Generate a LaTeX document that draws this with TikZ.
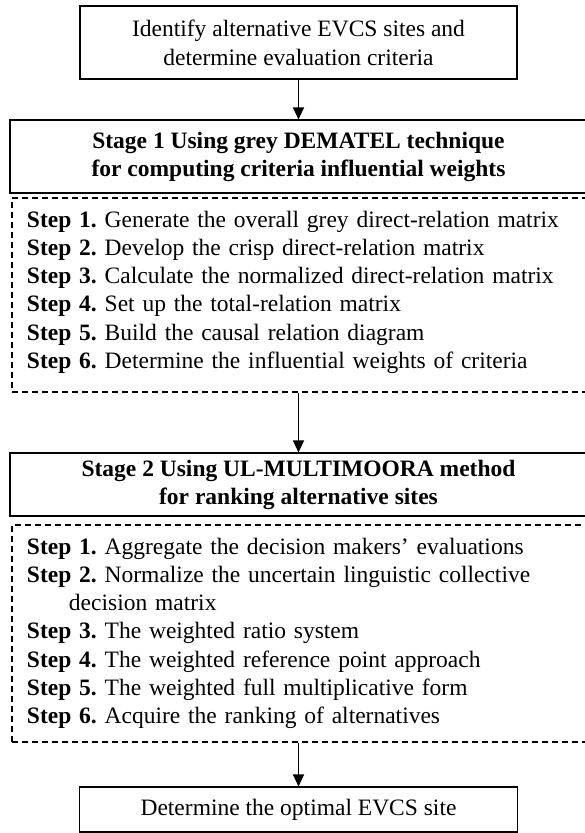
\documentclass[tikz,border=0pt]{standalone}
\usepackage{fontspec}
\setmainfont{Liberation Serif}
\usetikzlibrary{arrows.meta}
\frenchspacing
\hyphenpenalty=10000

\tikzstyle{sqr} = [rectangle, draw=black, line width=1.1pt, align=center, inner sep=0pt, font=\fontsize{23.5}{29}\selectfont]
\tikzstyle{stg} = [sqr, minimum width=577pt, font=\fontsize{23.5}{28}\selectfont\bfseries]
\tikzstyle{stp} = [rectangle, draw=black, line width=1.1pt, dash pattern=on 6pt off 4pt, text width=546pt, align=left, inner xsep=15pt, inner ysep=0pt, text height=29pt, font=\fontsize{23.5}{28.3}\selectfont]
\tikzstyle{arrow} = [line width=1.1pt, -{Triangle[width=11pt,length=12pt]}]

\begin{document}
\begin{tikzpicture}[x=1pt, y=-1pt, node distance=150pt]
\useasboundingbox (0,0) rectangle (584,833);

%% Input
\node (inp_top) [sqr, minimum width=437pt, minimum height=73pt] at (298.5,42.5) {Identify alternative EVCS sites and\\determine evaluation criteria};

%% Stage 1: grey DEMATEL
\node (stg_dem) [stg, minimum height=73pt, below of=inp_top, yshift=36pt] {Stage 1 Using grey DEMATEL technique\\for computing criteria influential weights};
\node (stp_dem) [stp, text depth=165pt, below of=stg_dem, yshift=11.5pt, xshift=1.5pt] {\textbf{Step 1.} Generate the overall grey direct-relation matrix\\
\textbf{Step 2.} Develop the crisp direct-relation matrix\\
\textbf{Step 3.} Calculate the normalized direct-relation matrix\\
\textbf{Step 4.} Set up the total-relation matrix\\
\textbf{Step 5.} Build the causal relation diagram\\
\textbf{Step 6.} Determine the influential weights of criteria};

%% Stage 2: UL-MULTIMOORA
\node (stg_mul) [stg, minimum height=63pt, below of=stp_dem, yshift=-39.5pt, xshift=-1.5pt] {Stage 2 Using UL-MULTIMOORA method\\for ranking alternative sites};
\node (stp_mul) [stp, text depth=188pt, below of=stg_mul, yshift=1pt, xshift=1.5pt] {\textbf{Step 1.} Aggregate the decision makers’ evaluations\\
\textbf{Step 2.} Normalize the uncertain linguistic collective\\
\hspace*{42pt}decision matrix\\
\textbf{Step 3.} The weighted ratio system\\
\textbf{Step 4.} The weighted reference point approach\\
\textbf{Step 5.} The weighted full multiplicative form\\
\textbf{Step 6.} Acquire the ranking of alternatives};

%% Output
\node (out_top) [sqr, minimum width=438pt, minimum height=45pt, below of=stp_mul, yshift=-26pt, xshift=-1.5pt] {Determine the optimal EVCS site};

%% Arrows
\draw [arrow] (inp_top) -- (stg_dem);
\draw [arrow] (stp_dem.south -| stg_mul) -- (stg_mul);
\draw [arrow] (stp_mul.south -| out_top) -- (out_top);
\end{tikzpicture}
\end{document}
